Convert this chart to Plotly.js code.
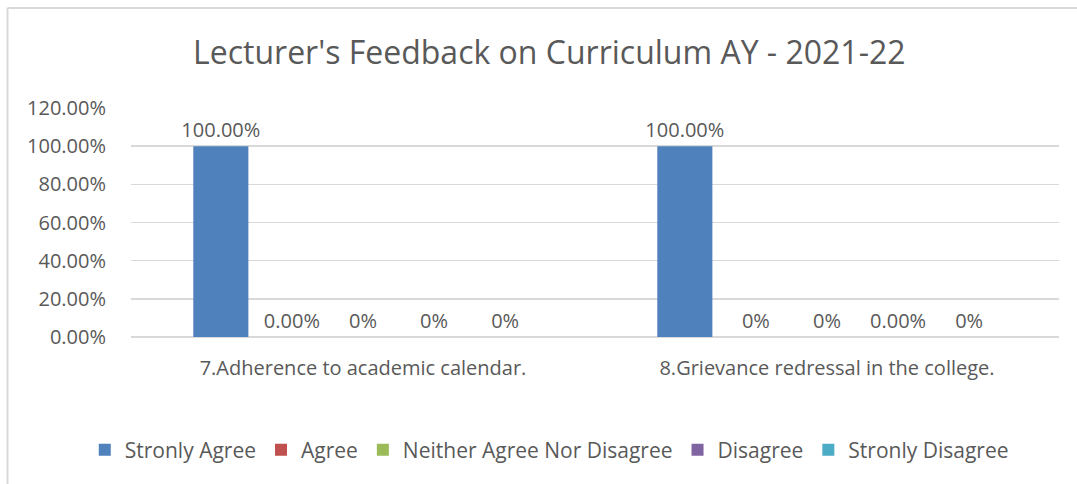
<!DOCTYPE html>
<html>
<head>
<meta charset="utf-8">
<script src="https://cdn.plot.ly/plotly-3.0.1.min.js"></script>
<style>
  html, body { margin: 0; padding: 0; background: #ffffff; }
  #chart { width: 1077px; height: 484px; }
</style>
</head>
<body>
<div id="chart"></div>
<script>
const categories = ["7.Adherence to academic calendar.", "8.Grievance redressal in the college."];
const seriesNames = ["Stronly Agree", "Agree", "Neither Agree Nor Disagree", "Disagree", "Stronly Disagree"];
const stronglyAgree = [1.0, 1.0];
const agree = [0, 0];
const neither = [0, 0];
const disagree = [0, 0];
const stronglyDisagree = [0, 0];
const stronglyAgreeLabels = ["100.00%", "100.00%"];
const agreeLabels = ["0.00%", "0%"];
const neitherLabels = ["0%", "0%"];
const disagreeLabels = ["0%", "0.00%"];
const stronglyDisagreeLabels = ["0%", "0%"];
const colors = ["#4F81BD", "#C0504D", "#9BBB59", "#8064A2", "#4BACC6"];

const FONT = "Open Sans, Noto Sans, sans-serif";
const TXT = "#595959";

const values = [stronglyAgree, agree, neither, disagree, stronglyDisagree];
const labels = [stronglyAgreeLabels, agreeLabels, neitherLabels, disagreeLabels, stronglyDisagreeLabels];

const traces = seriesNames.map((name, i) => ({
  type: "bar",
  name: name,
  x: categories,
  y: values[i],
  text: labels[i],
  textposition: "outside",
  constraintext: "none",
  textfont: { family: FONT, size: 20, color: TXT },
  cliponaxis: false,
  marker: { color: colors[i] },
  hoverinfo: "skip"
}));

const layout = {
  width: 1077,
  height: 484,
  margin: { l: 131, r: 18, t: 108, b: 147, pad: 0 },
  paper_bgcolor: "#ffffff",
  plot_bgcolor: "#ffffff",
  font: { family: FONT, color: TXT, size: 20 },
  title: {
    text: "Lecturer's Feedback on Curriculum AY - 2021-22",
    font: { family: FONT, size: 32, color: TXT },
    xref: "container", x: 0.51, xanchor: "center",
    yref: "container", y: 0.89, yanchor: "middle"
  },
  barmode: "group",
  bargap: 0.234,
  bargroupgap: 0.225,
  showlegend: true,
  legend: {
    orientation: "h",
    xref: "container", x: 0.51, xanchor: "center",
    yref: "container", y: 0.07, yanchor: "middle",
    font: { family: FONT, size: 21, color: TXT },
    itemwidth: 30,
    traceorder: "normal"
  },
  xaxis: {
    type: "category",
    range: [-0.5, 1.5],
    showgrid: false,
    zeroline: false,
    showline: false,
    ticks: "outside",
    ticklen: 13,
    tickcolor: "rgba(0,0,0,0)",
    tickfont: { family: FONT, size: 20, color: TXT }
  },
  yaxis: {
    range: [0, 1.2],
    dtick: 0.2,
    tick0: 0,
    tickformat: ".2%",
    showgrid: true,
    gridcolor: "#D9D9D9",
    gridwidth: 1.5,
    zeroline: true,
    zerolinecolor: "#D9D9D9",
    zerolinewidth: 1.5,
    showline: false,
    ticks: "outside",
    ticklen: 20,
    tickcolor: "rgba(0,0,0,0)",
    tickfont: { family: FONT, size: 20, color: TXT }
  },
  shapes: [
    {
      type: "line", xref: "paper", yref: "paper",
      x0: -0.1331, x1: 1.1, y0: 1.437, y1: 1.437,
      line: { color: "#D9D9D9", width: 2 }
    },
    {
      type: "line", xref: "paper", yref: "paper",
      x0: -0.1331, x1: -0.1331, y0: 1.437, y1: -0.7,
      line: { color: "#D9D9D9", width: 2 }
    }
  ]
};

Plotly.newPlot("chart", traces, layout, { displayModeBar: false, staticPlot: true });
</script>
</body>
</html>
